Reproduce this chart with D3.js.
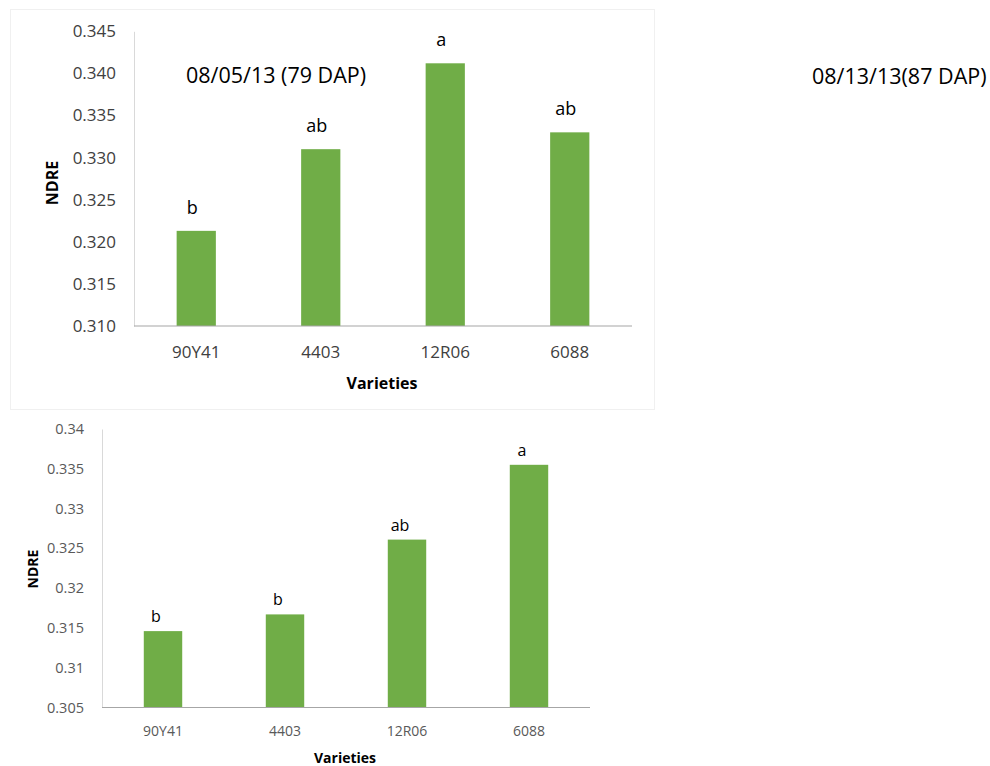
<!DOCTYPE html>
<html>
<head>
<meta charset="utf-8">
<script src="https://cdn.jsdelivr.net/npm/d3@7"></script>
<style>
  body { margin: 0; background: #fff; font-family: "Open Sans", sans-serif; }
  svg { display: block; }
</style>
</head>
<body>
<svg id="chart" width="990" height="766"></svg>
<script>
const varieties = ["90Y41", "4403", "12R06", "6088"];

// 08/05/13 (79 DAP)
const ndreAug05 = [0.3213, 0.3310, 0.3412, 0.3330];
const lettersAug05 = ["b", "ab", "a", "ab"];
const ticksAug05 = [0.310, 0.315, 0.320, 0.325, 0.330, 0.335, 0.340, 0.345];

// 08/13/13 (87 DAP)
const ndreAug13 = [0.3146, 0.3167, 0.3261, 0.3355];
const lettersAug13 = ["b", "b", "ab", "a"];
const ticksAug13 = [0.305, 0.31, 0.315, 0.32, 0.325, 0.33, 0.335, 0.34];

const svg = d3.select('#chart');

// faint frame around the first chart
svg.append('rect')
  .attr('x', 10.5).attr('y', 9.5)
  .attr('width', 644).attr('height', 400)
  .attr('fill', 'none')
  .attr('stroke', '#f0f0f0');

drawChart({
  values: ndreAug05, letters: lettersAug05, ticks: ticksAug05,
  tickFormat: d3.format('.3f'),
  x0: 134, x1: 632, yTop: 31.3, yBottom: 326,
  tickSize: 17, tickColor: '#404040', catSize: 17, catY: 358,
  titleSize: 16, xTitleY: 389, yTitleX: 58, yTitleY: 183,
  letterSize: 18, letterDx: -4, letterGap: 17,
  axisColor: '#d9d9d9', baseColor: '#a6a6a6'
});

drawChart({
  values: ndreAug13, letters: lettersAug13, ticks: ticksAug13,
  tickFormat: d => String(+d.toFixed(3)),
  x0: 102, x1: 590, yTop: 429, yBottom: 707.5,
  tickSize: 14.5, tickColor: '#595959', catSize: 14, catY: 736,
  titleSize: 14, xTitleY: 763, yTitleX: 38, yTitleY: 569,
  letterSize: 16, letterDx: -7, letterGap: 9,
  axisColor: '#d9d9d9', baseColor: '#a6a6a6'
});

// date captions
svg.append('text')
  .attr('x', 186).attr('y', 83)
  .style('font-size', '21.5px')
  .attr('fill', '#000')
  .text('08/05/13 (79 DAP)');

svg.append('text')
  .attr('x', 812).attr('y', 84)
  .style('font-size', '21.5px')
  .attr('fill', '#000')
  .text('08/13/13(87 DAP)');

function drawChart(c) {
  const g = svg.append('g');

  const x = d3.scaleBand()
    .domain(varieties)
    .range([c.x0, c.x1])
    .paddingInner(0.685)
    .paddingOuter(0.3425);

  const y = d3.scaleLinear()
    .domain([c.ticks[0], c.ticks[c.ticks.length - 1]])
    .range([c.yBottom, c.yTop]);

  // y axis: line and labels only
  const yAxis = g.append('g')
    .attr('transform', `translate(${c.x0},0)`)
    .call(d3.axisLeft(y).tickValues(c.ticks).tickFormat(c.tickFormat).tickSize(0).tickPadding(18));
  yAxis.select('.domain').attr('stroke', c.axisColor);
  yAxis.selectAll('text')
    .style('font-family', '"Open Sans", sans-serif')
    .style('font-size', c.tickSize + 'px')
    .attr('fill', c.tickColor);

  // bars
  g.selectAll('rect.bar')
    .data(c.values)
    .join('rect')
    .attr('class', 'bar')
    .attr('x', (d, i) => x(varieties[i]))
    .attr('width', x.bandwidth())
    .attr('y', d => y(d))
    .attr('height', d => y(c.ticks[0]) - y(d))
    .attr('fill', '#70AD47');

  // x baseline
  g.append('line')
    .attr('x1', c.x0).attr('x2', c.x1)
    .attr('y1', c.yBottom).attr('y2', c.yBottom)
    .attr('stroke', c.baseColor)
    .attr('stroke-width', 1.2);

  // category labels
  g.selectAll('text.cat')
    .data(varieties)
    .join('text')
    .attr('class', 'cat')
    .attr('x', d => x(d) + x.bandwidth() / 2)
    .attr('y', c.catY)
    .attr('text-anchor', 'middle')
    .style('font-size', c.catSize + 'px')
    .attr('fill', c.tickColor)
    .text(d => d);

  // significance letters
  g.selectAll('text.letter')
    .data(c.values)
    .join('text')
    .attr('class', 'letter')
    .attr('x', (d, i) => x(varieties[i]) + x.bandwidth() / 2 + c.letterDx)
    .attr('y', d => y(d) - c.letterGap)
    .attr('text-anchor', 'middle')
    .style('font-size', c.letterSize + 'px')
    .attr('fill', '#000')
    .text((d, i) => c.letters[i]);

  // axis titles
  g.append('text')
    .attr('x', (c.x0 + c.x1) / 2 - 1)
    .attr('y', c.xTitleY)
    .attr('text-anchor', 'middle')
    .style('font-size', c.titleSize + 'px')
    .style('font-weight', 'bold')
    .text('Varieties');

  g.append('text')
    .attr('transform', `translate(${c.yTitleX},${c.yTitleY}) rotate(-90)`)
    .attr('text-anchor', 'middle')
    .style('font-size', c.titleSize + 'px')
    .style('font-weight', 'bold')
    .text('NDRE');
}
</script>
</body>
</html>
